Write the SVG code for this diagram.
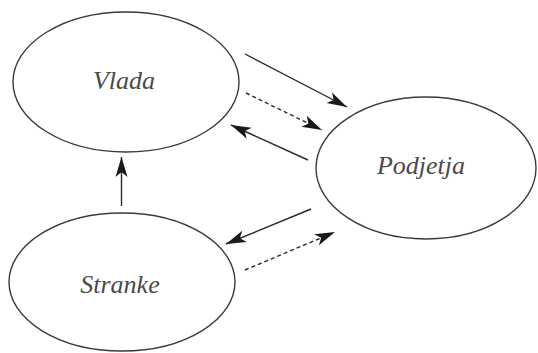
<svg xmlns="http://www.w3.org/2000/svg" width="538" height="353" viewBox="0 0 538 353">
<style>
.node ellipse{fill:#fff;stroke:#3a3a3a;stroke-width:1.4}
.node text{font-family:"Liberation Serif","Times New Roman",serif;font-style:italic;font-size:26px;fill:#4a4a4a;text-anchor:middle}
.c line{stroke:#2a2a2a;stroke-width:1.4;fill:none}
.c .d{stroke-dasharray:4 3}
</style>
<defs>
<marker id="ah" markerUnits="userSpaceOnUse" markerWidth="24" markerHeight="14" viewBox="-20 -7 22 14" refX="0" refY="0" orient="auto">
<path d="M0,0 L-20,-6 L-15,0 L-20,6 Z" fill="#1a1a1a"/>
</marker>
</defs>
<rect width="538" height="353" fill="#fff"/>
<g id="vlada" class="node">
<ellipse cx="126" cy="82" rx="113" ry="70"/>
<text x="124" y="89">Vlada</text>
</g>
<g id="stranke" class="node">
<ellipse cx="122" cy="282" rx="113" ry="69"/>
<text x="120" y="293">Stranke</text>
</g>
<g id="podjetja" class="node">
<ellipse cx="426" cy="168" rx="110" ry="71"/>
<text x="421" y="174">Podjetja</text>
</g>
<g id="connectors" class="c">
<line x1="245" y1="54" x2="347" y2="107" marker-end="url(#ah)"/>
<line class="d" x1="246" y1="93" x2="322" y2="130" marker-end="url(#ah)"/>
<line x1="308" y1="160" x2="231" y2="125" marker-end="url(#ah)"/>
<line x1="311" y1="209" x2="226" y2="244" marker-end="url(#ah)"/>
<line class="d" x1="245" y1="270" x2="335" y2="232" marker-end="url(#ah)"/>
<line x1="121.5" y1="206" x2="121.5" y2="157" marker-end="url(#ah)"/>
</g>
</svg>
